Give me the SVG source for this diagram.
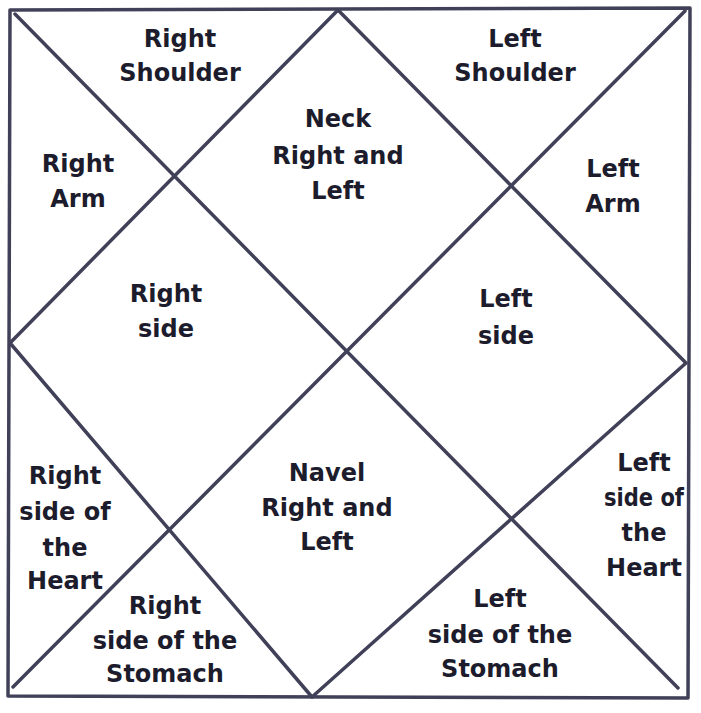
<svg xmlns="http://www.w3.org/2000/svg" width="701" height="713" viewBox="0 0 701 713">
<style>
.ln{fill:none;stroke:#404058;stroke-width:3.5;stroke-linecap:round;stroke-linejoin:round}
text{font-family:"DejaVu Sans","Liberation Sans",sans-serif;font-weight:bold;font-size:24px;fill:#1c1c2c;text-anchor:middle}
</style>
<rect width="701" height="713" fill="#ffffff"/>
<g id="connectors">
<polygon class="ln" points="10,10 690,8 688,698 8,696"/>
<line class="ln" x1="15" y1="14" x2="678" y2="688"/>
<line class="ln" x1="685" y1="11" x2="13" y2="687"/>
<polygon class="ln" points="338,10 686,363 312,697 10,343"/>
</g>
<g id="n1"><text x="180" y="47">Right</text><text x="180" y="81">Shoulder</text></g>
<g id="n2"><text x="515" y="47">Left</text><text x="515" y="81">Shoulder</text></g>
<g id="n3"><text x="338" y="127">Neck</text><text x="338" y="164">Right and</text><text x="338" y="199">Left</text></g>
<g id="n4"><text x="78" y="172">Right</text><text x="78" y="207">Arm</text></g>
<g id="n5"><text x="613" y="177">Left</text><text x="613" y="212">Arm</text></g>
<g id="n6"><text x="166" y="302">Right</text><text x="166" y="337">side</text></g>
<g id="n7"><text x="506" y="307">Left</text><text x="506" y="344">side</text></g>
<g id="n8"><text x="65" y="484">Right</text><text x="65" y="520">side of</text><text x="65" y="556">the</text><text x="65" y="589">Heart</text></g>
<g id="n9"><text x="327" y="481">Navel</text><text x="327" y="516">Right and</text><text x="327" y="550">Left</text></g>
<g id="n10"><text x="644" y="471">Left</text><text x="644" y="506" textLength="80" lengthAdjust="spacingAndGlyphs">side of</text><text x="644" y="541">the</text><text x="644" y="576">Heart</text></g>
<g id="n11"><text x="165" y="614">Right</text><text x="165" y="649">side of the</text><text x="165" y="682">Stomach</text></g>
<g id="n12"><text x="500" y="607">Left</text><text x="500" y="643">side of the</text><text x="500" y="677">Stomach</text></g>
</svg>
